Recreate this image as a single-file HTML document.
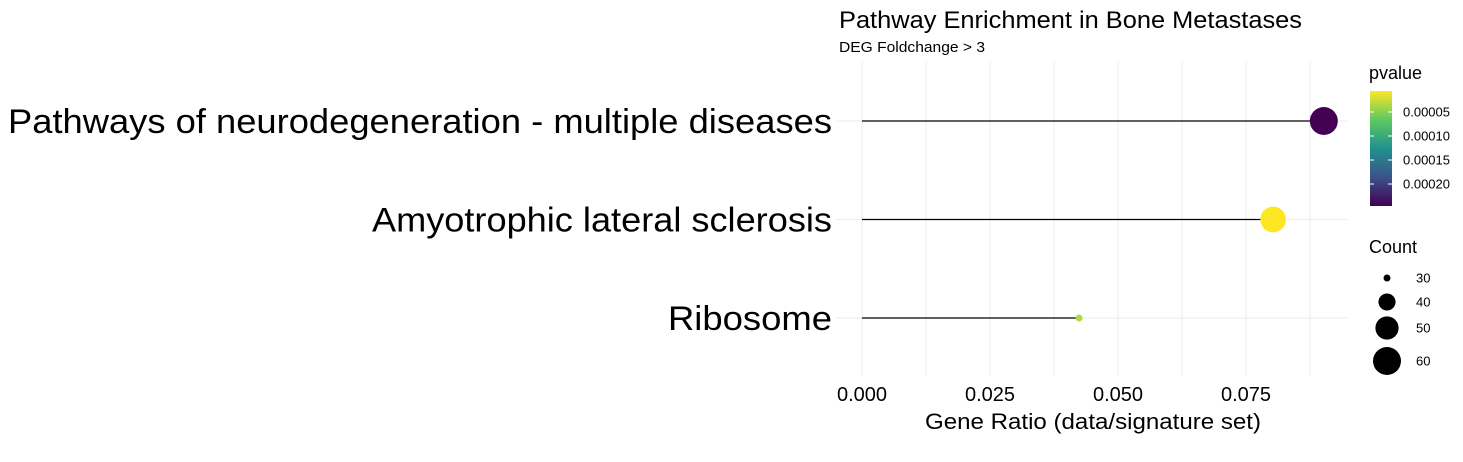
<!DOCTYPE html>
<html><head><meta charset="utf-8"><style>
body{margin:0;background:#fff;}
svg{display:block;font-family:"Liberation Sans",Arial,sans-serif;}
</style></head><body>
<svg id="chart" width="1463" height="462">
<defs><linearGradient id="vir" x1="0" y1="1" x2="0" y2="0">
<stop offset="0" stop-color="#440154"/><stop offset="0.25" stop-color="#3b528b"/><stop offset="0.5" stop-color="#21918c"/><stop offset="0.75" stop-color="#5ec962"/><stop offset="1" stop-color="#fde725"/></linearGradient></defs>
<text x="839" y="28" font-size="24.5" textLength="463" lengthAdjust="spacingAndGlyphs">Pathway Enrichment in Bone Metastases</text>
<text x="839" y="52" font-size="15" textLength="146" lengthAdjust="spacingAndGlyphs">DEG Foldchange &gt; 3</text>
<g id="grid"></g><g id="marks"></g><g id="axes"></g>
<text x="1093" y="429" font-size="22" text-anchor="middle" textLength="336" lengthAdjust="spacingAndGlyphs">Gene Ratio (data/signature set)</text>
<text x="1369" y="79" font-size="18">pvalue</text>
<rect x="1370" y="91" width="22" height="115" fill="url(#vir)"/>
<g id="clegend"></g>
<text x="1369" y="253" font-size="18">Count</text>
<g id="slegend"></g>
</svg>
<script>
const categories=["Pathways of neurodegeneration - multiple diseases","Amyotrophic lateral sclerosis","Ribosome"];
const labelWidths=[824,460,164];
const geneRatio=[0.0902,0.0803,0.0424];
const counts=[60,55,30];
const pvalues=[0.000246,0.0000063,0.000035];
const xTicks=[0,0.025,0.05,0.075];
const xTickLabels=["0.000","0.025","0.050","0.075"];
const pTicks=[0.00005,0.0001,0.00015,0.0002];
const pTickLabels=["0.00005","0.00010","0.00015","0.00020"];
const sizeBreaks=[30,40,50,60];

const NS="http://www.w3.org/2000/svg";
function mk(tag,attrs,parent){const e=document.createElementNS(NS,tag);for(const k in attrs)e.setAttribute(k,attrs[k]);parent.appendChild(e);return e;}
const x=v=>862+v*5120;
const rowY=i=>121+i*98.5;
const rad=c=>Math.sqrt(Math.max(1,12+(c-30)*6.13));
const pmin=Math.min(...pvalues),pmax=Math.max(...pvalues);
const pY=p=>112+(p-0.00005)/0.00005*24;
const vir=[[68,1,84],[59,82,139],[33,145,140],[94,201,98],[253,231,37]];
function color(p){let t=(pmax-p)/(pmax-pmin);t=Math.max(0,Math.min(1,t));const s=t*4,i=Math.min(3,Math.floor(s)),f=s-i;const c=vir[i].map((v,k)=>Math.round(v+(vir[i+1][k]-v)*f));return `rgb(${c})`;}
const grid=document.getElementById('grid'),marks=document.getElementById('marks'),axes=document.getElementById('axes');
for(let v=0;v<=0.0901;v+=0.0125){const g=mk('line',{x1:x(v),x2:x(v),y1:62,y2:376,stroke:'#ebebeb','stroke-width':1},grid);

}
categories.forEach((c,i)=>{const g=mk('line',{x1:836,x2:1347,y1:rowY(i),y2:rowY(i),stroke:'#ebebeb','stroke-width':1},grid);


const t=mk('text',{x:832,y:rowY(i)+12,'font-size':34,'text-anchor':'end',textLength:labelWidths[i],lengthAdjust:'spacingAndGlyphs'},axes);t.textContent=c;


const l=mk('line',{x1:x(0),x2:x(geneRatio[i]),y1:rowY(i),y2:rowY(i),stroke:'#000','stroke-width':1.2},marks);


const d=mk('circle',{cx:x(geneRatio[i]),cy:rowY(i),r:rad(counts[i]),fill:color(pvalues[i])},marks);

});
xTicks.forEach((v,i)=>{const t=mk('text',{x:x(v),y:401,'font-size':20,'text-anchor':'middle'},axes);t.textContent=xTickLabels[i];

});
const cl=document.getElementById('clegend');
pTicks.forEach((p,i)=>{const y=pY(p);
const a=mk('line',{x1:1370,x2:1374,y1:y,y2:y,stroke:'#fff'},cl);
const b=mk('line',{x1:1388,x2:1392,y1:y,y2:y,stroke:'#fff'},cl);
const t=mk('text',{x:1403,y:y+4.5,'font-size':13},cl);t.textContent=pTickLabels[i];

});
const sl=document.getElementById('slegend');
const sy=[278,302,328,361];
sizeBreaks.forEach((c,i)=>{const d=mk('circle',{cx:1387,cy:sy[i],r:rad(c),fill:'#000'},sl);


const t=mk('text',{x:1416,y:sy[i]+4.5,'font-size':13},sl);t.textContent=c;

});
</script>
</body></html>
